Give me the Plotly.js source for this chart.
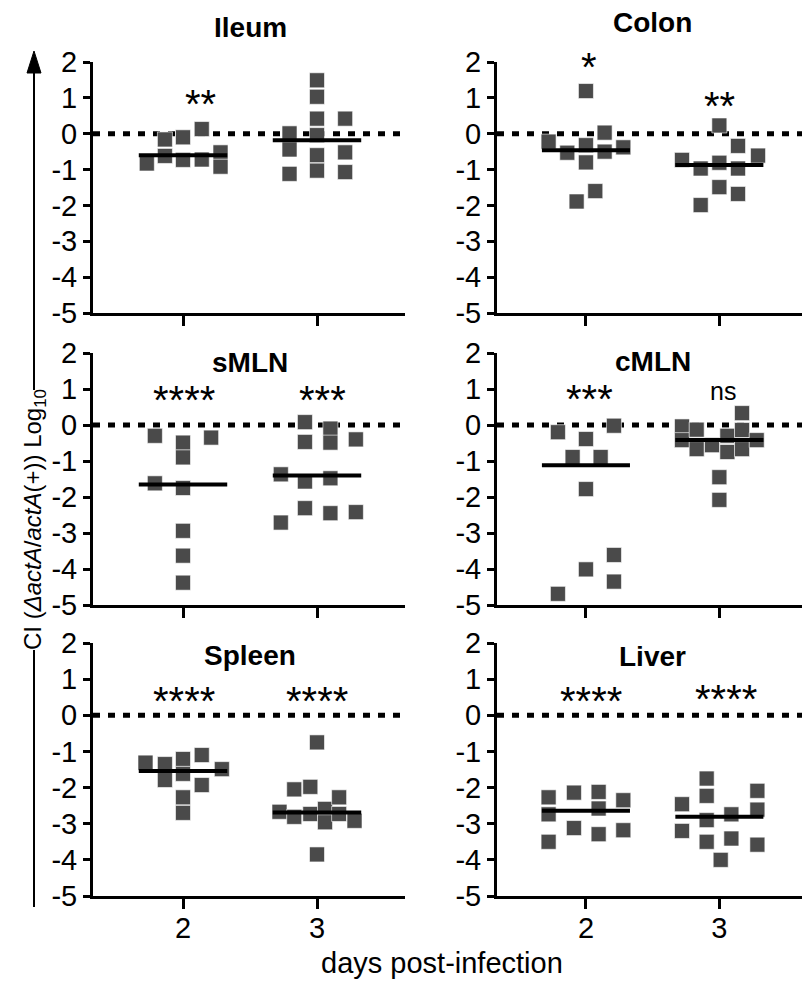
<!DOCTYPE html>
<html><head><meta charset="utf-8">
<script src="https://cdn.plot.ly/plotly-3.0.1.min.js"></script>
<style>html,body{margin:0;padding:0;background:#fff}</style>
</head><body><div id="chart" style="width:802px;height:983px"></div>
<script>
// ---------------- DATA ----------------
const tissues = ['Ileum', 'Colon', 'sMLN', 'cMLN', 'Spleen', 'Liver'];
const dayTicks = [2, 3];
const dayTickText = ['2', '3'];
const yTicks = [-5, -4, -3, -2, -1, 0, 1, 2];

const ileumD2x = [1.73, 1.865, 1.865, 2.0, 2.0, 2.14, 2.14, 2.28, 2.28];
const ileumD2y = [-0.83, -0.16, -0.62, -0.10, -0.73, 0.13, -0.72, -0.52, -0.92];
const ileumD3x = [2.795, 2.795, 2.795, 3.0, 3.0, 3.0, 3.0, 3.0, 3.0, 3.21, 3.21, 3.21];
const ileumD3y = [0.01, -0.44, -1.12, 1.49, 1.03, 0.42, -0.04, -0.60, -1.03, 0.42, -0.52, -1.07];

const colonD2x = [1.72, 1.86, 1.93, 2.0, 2.0, 2.0, 2.07, 2.14, 2.14, 2.28];
const colonD2y = [-0.22, -0.53, -1.89, 1.19, -0.32, -0.80, -1.60, 0.03, -0.50, -0.38];
const colonD3x = [2.72, 2.86, 2.86, 3.0, 3.0, 3.0, 3.14, 3.14, 3.14, 3.29];
const colonD3y = [-0.73, -0.97, -1.99, 0.23, -0.81, -1.49, -0.34, -0.97, -1.68, -0.61];

const smlnD2x = [1.79, 1.79, 2.0, 2.0, 2.0, 2.0, 2.0, 2.0, 2.21];
const smlnD2y = [-0.30, -1.62, -0.49, -0.90, -1.75, -2.94, -3.63, -4.38, -0.35];
const smlnD3x = [2.73, 2.73, 2.91, 2.91, 2.91, 2.91, 3.10, 3.10, 3.10, 3.10, 3.29, 3.29];
const smlnD3y = [-1.37, -2.71, 0.08, -0.47, -1.57, -2.31, -0.10, -0.49, -1.48, -2.45, -0.40, -2.42];

const cmlnD2x = [1.79, 1.79, 1.90, 2.0, 2.0, 2.0, 2.11, 2.21, 2.21, 2.21];
const cmlnD2y = [-0.20, -4.69, -0.89, -0.39, -1.78, -4.01, -0.89, -0.02, -3.61, -4.35];
const cmlnD3x = [2.72, 2.72, 2.83, 2.83, 2.945, 3.0, 3.0, 3.06, 3.06, 3.17, 3.17, 3.17, 3.28];
const cmlnD3y = [-0.04, -0.42, -0.13, -0.67, -0.56, -1.45, -2.08, -0.30, -0.75, 0.33, -0.14, -0.67, -0.42];

const spleenD2x = [1.72, 1.865, 1.865, 2.0, 2.0, 2.0, 2.0, 2.14, 2.14, 2.29];
const spleenD2y = [-1.31, -1.35, -1.79, -1.21, -1.62, -2.27, -2.70, -1.10, -1.93, -1.49];
const spleenD3x = [2.72, 2.83, 2.83, 2.95, 2.95, 3.0, 3.0, 3.06, 3.06, 3.165, 3.165, 3.28];
const spleenD3y = [-2.67, -2.05, -2.81, -1.98, -2.73, -0.75, -3.85, -2.59, -2.96, -2.27, -2.73, -2.92];

const liverD2x = [1.72, 1.72, 1.72, 1.91, 1.91, 2.095, 2.095, 2.095, 2.28, 2.28];
const liverD2y = [-2.27, -2.74, -3.50, -2.14, -3.12, -2.12, -2.58, -3.29, -2.35, -3.18];
const liverD3x = [2.72, 2.72, 2.905, 2.905, 2.905, 2.905, 3.01, 3.09, 3.09, 3.285, 3.285, 3.285];
const liverD3y = [-2.46, -3.20, -1.75, -2.23, -2.90, -3.50, -4.00, -2.74, -3.41, -2.09, -2.61, -3.58];

const medianD2 = [-0.60, -0.46, -1.65, -1.12, -1.54, -2.64];
const medianD3 = [-0.18, -0.87, -1.40, -0.42, -2.69, -2.81];
const sigD2 = ['**', '*', '****', '***', '****', '****'];
const sigD3 = ['', '**', '***', 'ns', '****', '****'];

// ---------------- BUILD ----------------
const groups = [
  [ileumD2x, ileumD2y, ileumD3x, ileumD3y],
  [colonD2x, colonD2y, colonD3x, colonD3y],
  [smlnD2x, smlnD2y, smlnD3x, smlnD3y],
  [cmlnD2x, cmlnD2y, cmlnD3x, cmlnD3y],
  [spleenD2x, spleenD2y, spleenD3x, spleenD3y],
  [liverD2x, liverD2y, liverD3x, liverD3y]
];

const FONT = 'Liberation Sans, Arial, Helvetica, sans-serif';
const W = 802, H = 983;
const px = v => v / W;
const py = v => 1 - v / H;

// layout geometry (pixels)
const colX = [[93, 405], [497, 802]];
const colRange = [[1.3284, 3.6567], [1.3333, 3.6195]];
const rowY = [[62, 313], [353, 605], [643, 896]];
const titleY = [27.5, 22.5, 362.5, 361, 655.5, 656];
// significance label positions: [x in data, glyph centre in pixels]
const sigPos2 = [[2.13, 95], [2.02, 58], [2.01, 391], [2.03, 390], [2.01, 692], [2.04, 692]];
const sigPos3 = [[3.0, 97], [3.0, 97], [3.04, 391], [3.03, 393], [3.0, 692], [3.05, 690]];
const halfW = 0.33;

const traces = [];
const annotations = [];
const shapes = [];
const layout = {
  width: W, height: H,
  margin: {l: 0, r: 0, t: 0, b: 0},
  paper_bgcolor: '#fff', plot_bgcolor: 'rgba(0,0,0,0)',
  showlegend: false,
  font: {family: FONT, color: '#000', size: 29}
};

for (let i = 0; i < 6; i++) {
  const n = i + 1;
  const xs = n === 1 ? 'x' : 'x' + n;
  const ys = n === 1 ? 'y' : 'y' + n;
  const col = i % 2, row = Math.floor(i / 2);
  const xKey = n === 1 ? 'xaxis' : 'xaxis' + n;
  const yKey = n === 1 ? 'yaxis' : 'yaxis' + n;
  layout[xKey] = {
    domain: [px(colX[col][0]), px(colX[col][1])],
    range: colRange[col], anchor: ys,
    showgrid: false, zeroline: false,
    showline: true, linewidth: 3, linecolor: '#000',
    ticks: 'outside', ticklen: 10, tickwidth: 3, tickcolor: '#000',
    tickvals: dayTicks, ticktext: dayTickText,
    showticklabels: row === 2, ticklabelstandoff: -6,
    tickfont: {size: 29, family: FONT, color: '#000'}
  };
  layout[yKey] = {
    domain: [py(rowY[row][1]), py(rowY[row][0])],
    range: [-5, 2], anchor: xs,
    showgrid: false, zeroline: false,
    showline: true, linewidth: 3, linecolor: '#000',
    ticks: 'outside', ticklen: 7, tickwidth: 3, tickcolor: '#000',
    tickvals: yTicks, ticktext: yTicks.map(String),
    tickfont: {size: 29, family: FONT, color: '#000'}
  };
  // zero dotted line
  shapes.push({
    type: 'line', xref: xs + ' domain', yref: ys,
    x0: 0, x1: 1, y0: 0, y1: 0, layer: 'below',
    line: {color: '#000', width: 5, dash: '7px,8px'}
  });
  const g = groups[i];
  // points
  traces.push({
    type: 'scatter', mode: 'markers', xaxis: xs, yaxis: ys,
    x: g[0].concat(g[2]), y: g[1].concat(g[3]), cliponaxis: false,
    marker: {symbol: 'square', size: 15, color: '#4a4a4a', line: {width: 0.6, color: '#ffffff'}},
    hoverinfo: 'skip'
  });
  // medians
  [[dayTicks[0], medianD2[i]], [dayTicks[1], medianD3[i]]].forEach(([d, m]) => {
    traces.push({
      type: 'scatter', mode: 'lines', xaxis: xs, yaxis: ys,
      x: [d - halfW, d + halfW], y: [m, m], cliponaxis: false,
      line: {color: '#000', width: 4}, hoverinfo: 'skip'
    });
  });
  // panel title
  annotations.push({
    text: '<b>' + tissues[i] + '</b>', xref: xs, yref: 'paper',
    x: 2.5, y: py(titleY[i]), xanchor: 'center', yanchor: 'middle',
    showarrow: false, font: {size: 28, family: FONT, color: '#000'}
  });
  // significance
  [[sigD2[i], sigPos2[i]], [sigD3[i], sigPos3[i]]].forEach(([s, p]) => {
    if (!s) return;
    const isNs = s === 'ns';
    annotations.push({
      text: s, xref: xs, yref: 'paper', x: p[0], y: py(p[1]),
      xanchor: 'center', yanchor: 'middle', showarrow: false,
      yshift: isNs ? 2 : -9,
      font: {size: isNs ? 25 : 40, family: FONT, color: '#000'}
    });
  });
}

// x axis title
annotations.push({
  text: 'days post-infection', xref: 'paper', yref: 'paper',
  x: px(442), y: py(963), xanchor: 'center', yanchor: 'middle',
  showarrow: false, font: {size: 29, family: FONT, color: '#000'}
});
// y axis title
annotations.push({
  text: 'CI (<i>ΔactA</i>/<i>actA</i>(+)) Log<sub>10</sub>', xref: 'paper', yref: 'paper',
  x: px(34), y: py(520), xanchor: 'center', yanchor: 'middle', textangle: -90,
  showarrow: false, font: {size: 24, family: FONT, color: '#000'}
});
// y title decorations: lines and arrow head
shapes.push({type: 'line', xref: 'paper', yref: 'paper', x0: px(34), x1: px(34), y0: py(72), y1: py(390), line: {color: '#000', width: 2}});
shapes.push({type: 'line', xref: 'paper', yref: 'paper', x0: px(34), x1: px(34), y0: py(650), y1: py(907), line: {color: '#000', width: 2}});
shapes.push({type: 'path', xref: 'paper', yref: 'paper',
  path: `M ${px(34)} ${py(51)} L ${px(27)} ${py(73)} L ${px(41)} ${py(73)} Z`,
  fillcolor: '#000', line: {color: '#000', width: 1}});

layout.annotations = annotations;
layout.shapes = shapes;

Plotly.newPlot('chart', traces, layout, {displayModeBar: false, staticPlot: true});
</script>
</body></html>
